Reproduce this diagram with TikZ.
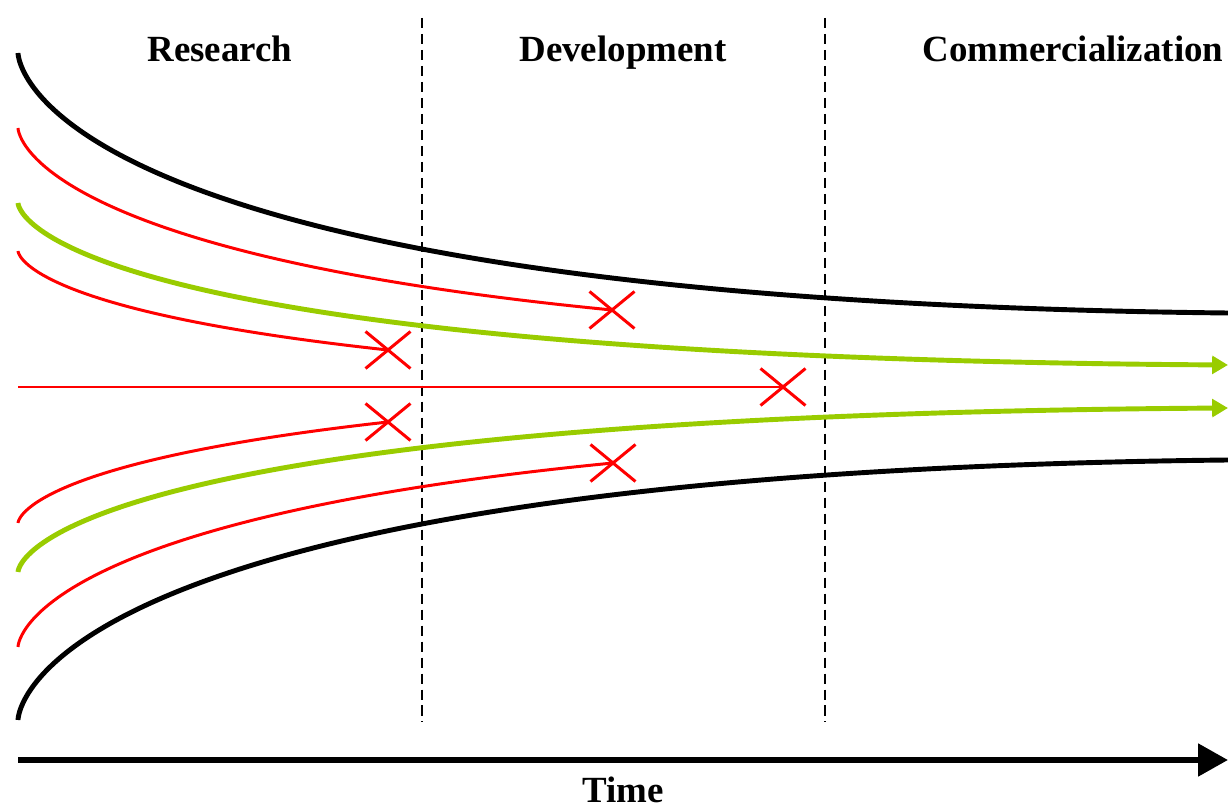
\documentclass[tikz,border=0pt]{standalone}
\usepackage{fontspec}
\setmainfont{Liberation Serif}
\usepackage{tikz}
\usetikzlibrary{shapes.misc, arrows.meta}
\definecolor{leafgreen}{RGB}{153,204,0}
\tikzstyle{bound} = [line width=2.8pt,black]
\tikzstyle{fail} = [line width=1.7pt,red]
\tikzstyle{pass} = [line width=2.8pt,leafgreen,-{Triangle[length=9pt,width=10pt]}]
\tikzstyle{stopmark} = [cross out,draw=red,line width=1.7pt,minimum width=0.9cm,minimum height=0.74cm,inner sep=0pt,outer sep=0pt]
\tikzstyle{phase} = [black,line width=0.85pt,dash pattern=on 5.7pt off 3.4pt]
\tikzstyle{heading} = [font=\fontsize{21}{25}\selectfont\bfseries,anchor=base,inner sep=0pt]

\begin{document}
\begin{tikzpicture}[x=0.02cm,y=-0.02cm]
	\useasboundingbox (0,0) rectangle (1228,810);
	%Labels
	\node[heading] (research) at (220,62) {Research};
	\node[heading] (develop) at (623,62) {Development};
	\node[heading] (commerce) at (1073,62) {Commercialization};
	\node[heading] (time) at (623,803) {Time};
	
	%Phase borders
	\coordinate (b1top) at (422,18);
	\coordinate (b1bot) at (422,722);
	\coordinate (b2top) at (825,18);
	\coordinate (b2bot) at (825,722);
	\draw[phase] (b1top) -- (b1bot);
	\draw[phase] (b2top) -- (b2bot);
	
	%Time axis
	\coordinate (t0) at (18,760);
	\coordinate (t1) at (1228,760);
	\draw[line width=3.4pt,-{Triangle[length=17pt,width=18pt]}] (t0) -- (t1);
	
	%Stops
	\node[stopmark] (x1) at (388,350) {};
	\node[stopmark] (x2) at (612,310) {};
	\node[stopmark] (x3) at (783,387) {};
	\node[stopmark] (x4) at (388,422) {};
	\node[stopmark] (x5) at (613,463) {};
	
	%Funnel
	\draw[bound] (18,53) .. controls (18,53) and (18,300) .. (1228,313);
	\draw[bound] (18,720) .. controls (18,720) and (18,473) .. (1228,460);
	
	%Projects that fail
	\draw[fail] (18,128) .. controls (18,128) and (18,252) .. (x2.center);
	\draw[fail] (18,251) .. controls (18,251) and (18,310) .. (x1.center);
	\draw[fail] (18,387) -- (x3.center);
	\draw[fail] (18,523) .. controls (18,523) and (18,463) .. (x4.center);
	\draw[fail] (18,647) .. controls (18,647) and (18,521) .. (x5.center);
	
	%Projects that pass
	\draw[pass] (18,203) .. controls (18,203) and (18,357) .. (1228,365);
	\draw[pass] (18,572) .. controls (18,572) and (18,416) .. (1228,408);
\end{tikzpicture}
\end{document}
